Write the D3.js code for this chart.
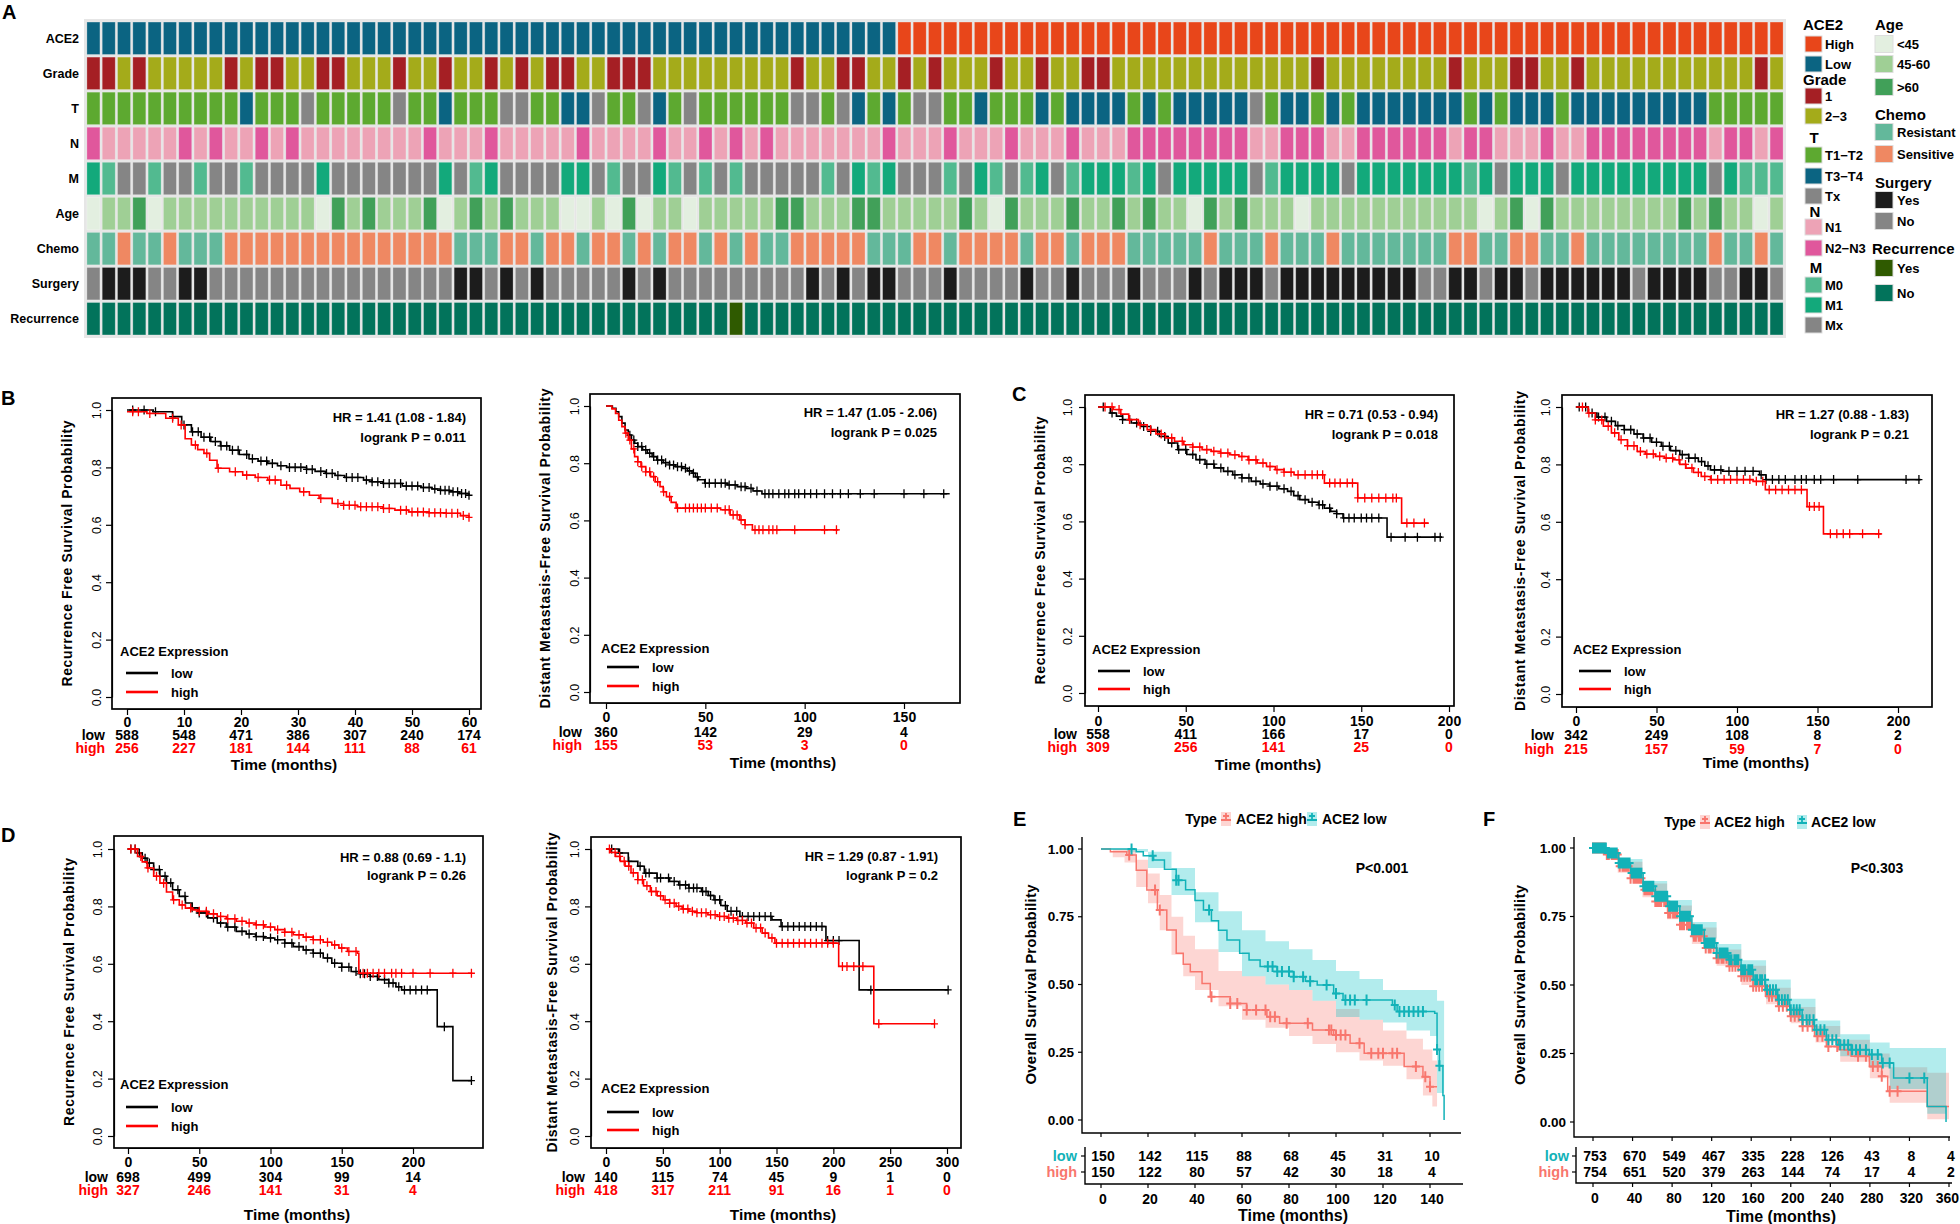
<!DOCTYPE html>
<html><head><meta charset="utf-8">
<script src="https://cdn.jsdelivr.net/npm/d3@7.9.0/dist/d3.min.js"></script>
<style>
body{margin:0;background:#fff;}
</style></head><body>
<svg id="fig" width="1960" height="1224"></svg>
<script>
// figure: ACE2 clinical heatmap (A) + survival panels (B-F)

const SANS = '"Liberation Sans", Arial, sans-serif';

// ---------- A: heatmap data (one code per patient column) ----------
const toArr = s => s.replace(/ /g, '').split('');
const heatRows = ['ACE2', 'Grade', 'T', 'N', 'M', 'Age', 'Chemo', 'Surgery', 'Recurrence'];
const ace2Vals  = toArr('LLLLLLLLLL LLLLLLLLLL LLLLLLLLLL LLLLLLLLLL LLLLLLLLLL LLLHHHHHHH HHHHHHHHHH HHHHHHHHHH HHHHHHHHHH HHHHHHHHHH HHHHHHHHHHH');
const gradeVals = toArr('1121222221 2112211222 1221221212 1122111222 2222221221 1221212221 2212211222 2222222222 1222222221 2221122122 22222222212');
const tVals     = toArr('aaaaaaaaaa baaaxaaaaa xaabaaaxxa abbxaaxbax aaaaaaxxax babaxxaaba aababbbbab abbbbbxabb ababbbbbbb ababbbabbb bbbbbbaaaaa');
const nVals     = toArr('2111112121 1212111111 1121112111 1121111211 2121211111 1121112111 2111211122 2222221122 2112222221 2211121122 22222212212');
const mVals     = toArr('10xx0xx0xx 0xxxx1xxxx xxx1x01xxx x11x0xx10x 0x0xxxxx0x 101xxx0x10 x01x011101 x11111x011 11x1111111 01x111x111 111111x1000');
const ageVals   = toArr('abbcabbbbb bbbbbacbcb bbcabcbcbb baabacabba bbbbbccbbb ccbbbbbcba cbbbcbbcbc bbacbcbbba bbbbbbbbbb babcacbbbb bbbbcbcbbab');
const chemoVals = toArr('RRSRRSRRRS SSSSSSSSSS SSSSRRRSSR SSRSSRSRSS RSRSRRSSSS SRRRSSRSSS SRSSRSSSRR RRRSRRRSRR RSRRRRRRRS SRRSSRRSRR RRRRRRSRRSR');
const surgVals  = toArr('NYYYNNYYNN NNNNNNNNNN NNNNYYNYNY NNNNNYNYNN NNNNNNNYNY NYYNNNYNNN NYNNYNNNYN NNYNYYYNYY YYYYYYYNNY YNYYNYYYYY YNYYYYNNYYN');
const recVals   = toArr('NNNNNNNNNN NNNNNNNNNN NNNNNNNNNN NNNNNNNNNN NNYNNNNNNN NNNNNNNNNN NNNNNNNNNN NNNNNNNNNN NNNNNNNNNN NNNNNNNNNN NNNNNNNNNNN');
const heatVals = [ace2Vals, gradeVals, tVals, nVals, mVals, ageVals, chemoVals, surgVals, recVals];

const palette = {
  ACE2: {H: '#E8461A', L: '#0B6482'},
  Grade: {'1': '#A51F24', '2': '#A4AB1A'},
  T: {a: '#5DA930', b: '#0B6482', x: '#858585'},
  N: {'1': '#EDA3B6', '2': '#E0579C'},
  M: {'0': '#52BA90', '1': '#13A97B', x: '#858585'},
  Age: {a: '#E3EFE0', b: '#9FCF95', c: '#41A059'},
  Chemo: {R: '#63B89B', S: '#EF8862'},
  Surgery: {Y: '#1C1C1C', N: '#858585'},
  Recurrence: {Y: '#2F5A00', N: '#02735B'}
};

// legend entries: [group, title, [code, label] ...]
const legendLeft = [
  ['ACE2', 'ACE2', [['H', 'High'], ['L', 'Low']]],
  ['Grade', 'Grade', [['1', '1'], ['2', '2\u22123']]],
  ['T', 'T', [['a', 'T1\u2212T2'], ['b', 'T3\u2212T4'], ['x', 'Tx']]],
  ['N', 'N', [['1', 'N1'], ['2', 'N2\u2212N3']]],
  ['M', 'M', [['0', 'M0'], ['1', 'M1'], ['x', 'Mx']]]
];
const legendRight = [
  ['Age', 'Age', [['a', '<45'], ['b', '45-60'], ['c', '>60']]],
  ['Chemo', 'Chemo', [['R', 'Resistant'], ['S', 'Sensitive']]],
  ['Surgery', 'Surgery', [['Y', 'Yes'], ['N', 'No']]],
  ['Recurrence', 'Recurrence', [['Y', 'Yes'], ['N', 'No']]]
];

// ---------- B-D: Kaplan-Meier curves [months, survival] ----------
const b1Low = [[0,1],[4.6,.994],[8,.977],[9.6,.948],[11.3,.924],[13,.905],[14.7,.89],[16.4,.875],[18,.86],[19.7,.845],[21.4,.83],[23,.822],[24.7,.814],[26.4,.806],[28,.8],[31.5,.793],[33,.786],[34.8,.779],[36.5,.772],[38.2,.765],[41.5,.756],[43,.75],[44.9,.744],[48.3,.735],[51.6,.73],[53.5,.725],[55,.72],[56.6,.715],[58.3,.709],[60,.703]];
const b1High = [[0,.994],[3.5,.988],[6.8,.971],[9,.948],[10.2,.9],[11.3,.878],[12.4,.862],[13.5,.849],[14.5,.825],[15.8,.797],[18,.785],[20.3,.773],[22.5,.765],[24.7,.756],[27,.738],[28.6,.727],[30.3,.715],[32,.703],[33.7,.692],[36,.674],[38,.668],[40.4,.663],[44.9,.657],[47,.651],[49.4,.645],[53,.642],[56,.64],[58.5,.632],[60,.626]];
const b1LowCens = [1,3,5,8,10,11.5,12.5,13.5,14.5,15.5,16.5,17.5,18.5,19.5,21,22,23.5,24.5,25.5,27,28.5,29.5,30.5,31.5,32.5,34,35,36,37,38.5,39.5,40.5,42,43,44,45,46,47,48,49,50,51,52,53,54,55,55.8,56.5,57.2,58,58.7,59.4,60];
const b1HighCens = [1,2,4,8,9.5,12,14,16,19,21,23,25,26,28,31,34,37,38,39,40,41,42,43,44,45,46,48,49,50,51,52,53,54,55,56,57,58,59,60];
const b2Low = [[0,1],[3.2,.992],[5,.98],[6.4,.963],[8,.94],[9.6,.916],[11.2,.898],[12.8,.881],[14.4,.87],[16,.858],[18.4,.847],[20.8,.835],[23.2,.823],[25.6,.811],[28.8,.802],[32,.794],[35,.788],[38.5,.782],[41,.773],[43.3,.765],[45,.752],[46.5,.742],[49.7,.73],[61,.724],[66,.718],[70.5,.712],[74,.703],[78.5,.693],[173,.693]];
const b2High = [[0,1],[3,.99],[4.8,.974],[6.4,.95],[8,.928],[9.6,.905],[11.2,.881],[12.8,.85],[14.4,.823],[16,.805],[17.6,.788],[20,.77],[22.4,.753],[24.8,.735],[27.2,.718],[28.8,.7],[30.4,.683],[32.8,.663],[35.3,.643],[57.7,.637],[62.5,.619],[67.3,.602],[70,.585],[73.7,.567],[117,.567]];
const b2LowCens = [12,14,16,18,20,22,24,26,28,30,32,34,36,38,40,42,44,46,50,52,55,58,60,62,65,68,70,73,76,80,82,84,87,90,92,95,97,100,103,106,110,114,118,122,128,135,150,160,170];
const b2HighCens = [10,12,14,16,18,20,22,24,26,29,32,36,40,42,44,46,48,50,53,56,60,62,64,66,68,70,75,77,79,82,84,86,95,110,116];
const c1Low = [[0,1],[7,.979],[10.5,.968],[14,.956],[19,.944],[24.4,.932],[30,.915],[35,.897],[40,.874],[45.4,.851],[50.6,.834],[55.8,.816],[61,.8],[66.3,.787],[71.5,.775],[76.8,.763],[82,.752],[87.3,.74],[92.5,.731],[97.7,.723],[103,.714],[108,.705],[111.5,.69],[115,.676],[120,.667],[125.6,.658],[129,.646],[132.6,.635],[136,.627],[139.6,.612],[164.7,.545],[196,.545]];
const c1High = [[0,1],[8.7,.991],[13,.975],[17.5,.956],[23,.938],[28,.921],[33,.906],[38.4,.892],[43.6,.88],[48.9,.868],[54,.86],[59.3,.851],[64.5,.845],[69.8,.839],[75,.833],[80.3,.827],[85.5,.815],[90.7,.804],[96,.792],[101,.781],[106,.772],[111.7,.763],[129,.734],[148,.682],[173,.594],[188.5,.594]];
const c1LowCens = [3,8,14,18,22,26,30,34,38,42,46,50,54,58,62,66,70,74,78,82,86,90,94,98,102,106,110,114,118,122,126,128,132,136,140,143,146,150,153,156,160,167,175,182,192,195];
const c1HighCens = [4,8,12,18,24,30,36,42,48,54,58,62,66,70,74,78,82,86,90,94,98,102,106,110,114,118,122,125,128,132,135,138,142,145,148,152,156,160,164,168,170,176,180,186];
const c2Low = [[0,1],[7.6,.979],[13,.965],[19,.95],[24.5,.935],[30,.921],[36,.906],[41.7,.892],[47,.877],[53,.863],[58.7,.848],[64.5,.834],[70,.822],[76,.81],[80,.795],[83.5,.781],[91,.776],[114,.764],[118,.747],[214,.747]];
const c2High = [[0,1],[7.6,.979],[12,.955],[17,.933],[22,.91],[26.6,.886],[32,.865],[38,.845],[43,.836],[49.3,.828],[55,.822],[60.7,.816],[64.5,.8],[68.3,.787],[73,.772],[77.8,.758],[83.5,.747],[110,.741],[117.6,.712],[143.5,.653],[153.7,.558],[189.8,.558]];
const c2LowCens = [2,6,10,14,18,22,26,30,34,38,42,46,50,54,58,62,66,70,74,78,82,86,90,95,100,105,110,115,118,122,126,130,136,140,143,148,152,160,175,205,213];
const c2HighCens = [4,8,12,16,20,24,28,32,36,40,44,48,52,56,60,64,68,72,76,80,84,88,92,96,100,104,108,112,116,120,124,128,132,136,140,145,148,151,158,162,166,170,178,188];
const d1Low = [[0,1],[6.7,.986],[10,.968],[13.4,.951],[18,.928],[22.4,.905],[27,.882],[31.3,.858],[36,.835],[40.3,.812],[45,.795],[49.2,.777],[56,.76],[62.6,.742],[69,.728],[76,.713],[83,.704],[89.5,.695],[96,.69],[103,.684],[110,.672],[116,.66],[123,.648],[130,.637],[137,.62],[143,.602],[150,.588],[156.6,.573],[163,.565],[170,.556],[176,.545],[183,.533],[188,.52],[192,.509],[217,.381],[228,.193],[240.7,.193]];
const d1High = [[0,1],[6.7,.974],[10,.955],[13.4,.934],[18,.905],[22.4,.881],[27,.85],[31.3,.823],[36,.805],[40.3,.794],[45,.788],[49.2,.783],[56,.774],[62.6,.765],[69,.757],[76,.748],[83,.742],[89.5,.736],[96,.728],[103,.719],[110,.71],[116,.701],[123,.693],[130,.684],[137,.675],[143,.666],[148,.655],[154,.643],[161,.637],[162,.567],[241.6,.567]];
const d1LowCens = [2,5,8,12,15,18,22,26,30,35,40,45,50,55,60,65,70,75,80,85,90,95,100,105,110,115,120,125,130,135,140,145,150,155,160,163,166,170,175,180,183,186,190,194,198,202,206,210,222,241];
const d1HighCens = [2,5,9,14,20,25,32,38,44,50,55,60,65,70,75,80,85,90,95,100,105,110,115,120,125,130,135,140,145,150,155,160,165,168,172,176,180,185,188,192,200,212,228,241];
const d2Low = [[0,1],[11,.986],[19.6,.957],[28,.94],[33.7,.916],[44.9,.899],[56,.887],[64,.875],[72.9,.864],[84,.852],[90,.838],[95,.823],[101,.803],[106.6,.783],[117.8,.765],[146,.753],[154,.73],[193.5,.681],[222.7,.509],[301,.509]];
const d2High = [[0,1],[4,.988],[8.4,.974],[12.6,.957],[16.8,.94],[22,.917],[28,.893],[33,.872],[39,.852],[45,.837],[50.5,.823],[56,.811],[61.7,.8],[67,.791],[72.9,.783],[80,.778],[89.7,.771],[98,.765],[106.6,.759],[115,.751],[123,.742],[130,.725],[137.4,.707],[143,.69],[148.6,.672],[204.7,.591],[235.6,.391],[288.8,.391]];
const d2LowCens = [5,12,20,30,35,38,45,48,55,60,65,70,73,77,80,85,88,92,96,100,105,110,115,120,125,130,135,140,145,155,160,165,170,175,180,185,190,195,200,205,233,301];
const d2HighCens = [3,8,12,16,20,24,28,32,36,40,44,48,52,56,60,64,68,72,76,80,84,88,92,96,100,104,108,112,116,120,124,128,132,136,140,146,150,155,160,165,170,175,180,185,190,195,200,208,212,218,226,240,289];

// number at risk tables
const b1Times = [0,10,20,30,40,50,60], b1RiskLow = [588,548,471,386,307,240,174], b1RiskHigh = [256,227,181,144,111,88,61];
const b2Times = [0,50,100,150], b2RiskLow = [360,142,29,4], b2RiskHigh = [155,53,3,0];
const c1Times = [0,50,100,150,200], c1RiskLow = [558,411,166,17,0], c1RiskHigh = [309,256,141,25,0];
const c2Times = [0,50,100,150,200], c2RiskLow = [342,249,108,8,2], c2RiskHigh = [215,157,59,7,0];
const d1Times = [0,50,100,150,200], d1RiskLow = [698,499,304,99,14], d1RiskHigh = [327,246,141,31,4];
const d2Times = [0,50,100,150,200,250,300], d2RiskLow = [140,115,74,45,9,1,0], d2RiskHigh = [418,317,211,91,16,1,0];

// ---------- E-F: overall survival with confidence bands ----------
const eLow = [[0,1],[11,1],[15,.99],[18,.975],[22.4,.959],[27,.925],[32,.885],[36,.85],[40,.81],[43.6,.775],[47,.735],[50,.7],[53.6,.664],[59,.615],[63,.59],[67.7,.566],[75,.548],[82,.529],[87,.512],[92,.498],[99,.467],[103,.443],[124,.424],[126,.4],[142,.394],[143,.26],[144,.2],[145.5,.09],[146,0]];
const eHigh = [[0,1],[4,.99],[11,.978],[15,.922],[19.5,.849],[24,.775],[28,.701],[32,.615],[35,.575],[38,.547],[43,.504],[46.5,.455],[55,.43],[62,.406],[70.6,.381],[76,.357],[90,.332],[99,.314],[106,.283],[112,.246],[129,.197],[137,.16],[140,.123],[143,.123]];
const eLowBand = [[0,1,1],[11,.99,1],[20,.93,.99],[30,.83,.93],[40,.73,.84],[50,.62,.77],[60,.53,.7],[70,.5,.66],[80,.48,.63],[90,.44,.59],[100,.38,.55],[110,.37,.52],[120,.36,.48],[130,.33,.48],[140,.31,.48],[143,.1,.44],[146,0,.44]];
const eHighBand = [[0,1,1],[5,.97,1],[10,.95,1],[15,.86,.96],[20,.8,.91],[25,.7,.83],[30,.61,.75],[35,.53,.68],[40,.48,.63],[50,.42,.55],[60,.37,.53],[70,.34,.5],[80,.31,.48],[90,.28,.44],[100,.25,.41],[110,.22,.37],[120,.2,.33],[130,.15,.3],[137,.09,.26],[141,.05,.22],[143,.05,.22]];
const eLowCens = [13,22,32,33,46,71,73,75,77,80,82,86,89,96,100,104,106,108,113,125,127,129,131,133,135,137,143,144];
const eHighCens = [12,23,25,47,55,58,62,66,70,72,74,79,88,97,98,100,102,104,110,115,118,120,124,126,134,138,140];
const eTimes = [0,20,40,60,80,100,120,140], eRiskLow = [150,142,115,88,68,45,31,10], eRiskHigh = [150,122,80,57,42,30,18,4];

const fLow = [[0,1],[13.6,.982],[26,.945],[38,.909],[50.7,.86],[63,.824],[75.4,.787],[87.8,.751],[100,.702],[112.6,.653],[125,.617],[137,.592],[149.7,.556],[162,.519],[174.4,.483],[186.8,.446],[199,.41],[211.5,.373],[224,.337],[236,.3],[248.6,.282],[261,.264],[279.5,.246],[292,.215],[304,.161],[338,.057],[357,0]];
const fHigh = [[0,1],[13.6,.976],[26,.933],[38,.89],[50.7,.848],[63,.805],[75.4,.763],[87.8,.72],[100,.678],[112.6,.635],[125,.598],[137,.568],[149.7,.532],[162,.495],[174.4,.459],[186.8,.422],[199,.386],[211.5,.349],[224,.313],[236,.276],[248.6,.264],[261,.24],[279.5,.203],[292,.167],[298,.112],[338,.057],[360,.057]];
const fLowBand = [[0,1,1],[25,.93,.96],[50,.84,.88],[75,.77,.81],[100,.67,.73],[125,.59,.65],[150,.52,.59],[175,.45,.52],[200,.38,.45],[225,.31,.37],[250,.24,.32],[280,.2,.29],[300,.12,.27],[338,.03,.27],[357,0,.27]];
const fHighBand = [[0,1,1],[25,.91,.95],[50,.82,.87],[75,.74,.79],[100,.65,.71],[125,.57,.63],[150,.5,.57],[175,.43,.49],[200,.36,.42],[225,.29,.35],[250,.22,.3],[280,.16,.25],[300,.07,.2],[338,.01,.18],[360,.01,.18]];
const fLowCens = [0,1,2,4,5,7,8,10,12,13,15,17,18,20,22,24,26,28,30,31,33,35,37,39,41,43,45,47,49,51,53,55,57,59,61,63,65,67,69,71,73,75,77,79,81,83,85,88,90,92,94,96,98,100,102,104,106,108,110,113,115,117,119,121,123,125,128,130,132,134,136,138,140,143,145,147,150,152,154,157,159,161,164,166,169,171,174,176,179,182,185,188,191,194,197,200,203,206,209,212,216,219,223,226,230,234,238,242,246,250,254,258,262,266,270,276,282,288,293,300,320,335];
const fHighCens = [0,2,3,5,6,8,10,12,14,16,19,21,23,25,27,30,32,34,36,38,41,43,45,47,49,52,54,56,58,60,63,65,67,69,72,74,76,78,81,83,85,88,90,92,95,97,99,102,104,107,109,112,114,117,119,122,125,127,130,132,135,138,141,144,147,150,153,156,159,162,165,168,171,174,178,181,185,188,192,196,200,204,208,212,217,222,227,232,238,247,258,268,276,283,288,292,300,308];
const fTimes = [0,40,80,120,160,200,240,280,320,360], fRiskLow = [753,670,549,467,335,228,126,43,8,4], fRiskHigh = [754,651,520,379,263,144,74,17,4,2];

// ---------- drawing ----------
const svg = d3.select('#fig');

function txt(g, x, y, s, size, opts = {}) {
  return g.append('text').attr('x', x).attr('y', y).attr('dy', '0.35em')
    .attr('text-anchor', opts.anchor || 'start')
    .attr('fill', opts.fill || '#000')
    .style('font', `${opts.weight || 'bold'} ${size}px ${SANS}`)
    .text(s);
}

function survAt(curve, t) {
  let s = curve[0][1];
  curve.forEach(d => { if (d[0] <= t) s = d[1]; });
  return s;
}

function plusPath(curve, cens, x, y, hw, hh) {
  return cens.map(t => {
    const cx = x(t), cy = y(survAt(curve, t));
    return `M${cx - hw},${cy}h${2 * hw}M${cx},${cy - hh}v${2 * hh}`;
  }).join('');
}

// panel letters
[['A', 2, 19], ['B', 1, 405], ['C', 1012, 401], ['D', 1, 842], ['E', 1013, 826], ['F', 1483, 826]].forEach(([l, x, y]) => {
  svg.append('text').attr('x', x).attr('y', y).style('font', `bold 20px ${SANS}`).text(l);
});

// ---- A heatmap ----
const hx = d3.scaleBand().domain(d3.range(ace2Vals.length)).range([86, 1784]).paddingInner(0.15).paddingOuter(0.06);
const hy = d3.scaleBand().domain(heatRows).range([21, 336]).paddingInner(0.075).paddingOuter(0.03);
const heat = svg.append('g');
heat.append('rect').attr('x', 84).attr('y', 19).attr('width', 1702).attr('height', 319).attr('fill', '#e6e6e6');
heatRows.forEach((row, r) => {
  heat.selectAll(null).data(heatVals[r]).join('rect')
    .attr('x', (d, i) => hx(i)).attr('y', hy(row))
    .attr('width', hx.bandwidth()).attr('height', hy.bandwidth())
    .attr('fill', d => palette[row][d])
    .attr('stroke', 'rgba(255,255,255,0.3)').attr('stroke-width', 0.8);
  txt(heat, 79, hy(row) + hy.bandwidth() / 2, row, 12.5, {anchor: 'end'});
});

// legends
function drawLegend(groups, layout) {
  const g = svg.append('g');
  groups.forEach(([key, title, items], gi) => {
    const L = layout[gi];
    txt(g, L.tx, L.ty, title, 15, {anchor: L.center ? 'middle' : 'start'});
    items.forEach(([code, label], ii) => {
      const cy = L.items[ii];
      g.append('rect').attr('x', layout.sx).attr('y', cy - layout.sh / 2)
        .attr('width', layout.sw).attr('height', layout.sh)
        .attr('fill', palette[key][code]).attr('stroke', '#ddd').attr('stroke-width', 1);
      txt(g, layout.lx, cy, label, 13);
    });
  });
}
const legLeftLayout = [
  {tx: 1803, ty: 25, items: [44, 64]},
  {tx: 1803, ty: 80, items: [96, 116]},
  {tx: 1814, ty: 138, center: true, items: [155, 176, 196]},
  {tx: 1815, ty: 212, center: true, items: [227, 248]},
  {tx: 1816, ty: 268, center: true, items: [285, 305, 325]}
];
Object.assign(legLeftLayout, {sx: 1805, sw: 17, sh: 16, lx: 1825});
const legRightLayout = [
  {tx: 1875, ty: 25, items: [44, 64, 87]},
  {tx: 1875, ty: 115, items: [132, 154]},
  {tx: 1875, ty: 183, items: [200, 221]},
  {tx: 1872, ty: 249, items: [268, 293]}
];
Object.assign(legRightLayout, {sx: 1875, sw: 18, sh: 17, lx: 1897});
drawLegend(legendLeft, legLeftLayout);
drawLegend(legendRight, legRightLayout);

// ---- B-D: base-R style KM plots ----
function drawKM(p) {
  const g = svg.append('g');
  const [L, T, R, B] = p.box;
  const x = d3.scaleLinear().domain([p.times[0], p.times[p.times.length - 1]]).range(p.xr);
  const y = d3.scaleLinear().domain([0, 1]).range(p.yr);
  const line = d3.line().x(d => x(d[0])).y(d => y(d[1])).curve(d3.curveStepAfter);

  [[p.low, p.lowCens, '#000'], [p.high, p.highCens, '#FF0000']].forEach(([c, cens, col]) => {
    g.append('path').attr('d', line(c)).attr('fill', 'none').attr('stroke', col).attr('stroke-width', 1.6);
    g.append('path').attr('d', plusPath(c, cens, x, y, 3.5, 4.5)).attr('fill', 'none').attr('stroke', col).attr('stroke-width', 1.3);
  });

  g.append('rect').attr('x', L).attr('y', T).attr('width', R - L).attr('height', B - T)
    .attr('fill', 'none').attr('stroke', '#000').attr('stroke-width', 1.7);

  const ya = g.append('g').attr('transform', `translate(${L},0)`)
    .call(d3.axisLeft(y).tickValues([0, .2, .4, .6, .8, 1]).tickFormat(d3.format('.1f')).tickSize(6).tickSizeOuter(0));
  ya.selectAll('text').attr('x', 0).attr('dy', null).attr('text-anchor', 'middle')
    .attr('transform', `translate(${p.yTickX - L + 4.5},0) rotate(-90)`)
    .style('font', `12.5px ${SANS}`);
  ya.selectAll('line,path').attr('stroke-width', 1.2);

  const xa = g.append('g').attr('transform', `translate(0,${B})`)
    .call(d3.axisBottom(x).tickValues(p.times).tickSize(6).tickSizeOuter(0));
  xa.selectAll('text').attr('y', p.labY - B).attr('dy', '0.35em').style('font', `bold 14px ${SANS}`);
  xa.selectAll('line,path').attr('stroke-width', 1.2);

  // rotated y title
  g.append('text').attr('transform', `translate(${p.ylabX},${(T + B) / 2}) rotate(-90)`)
    .attr('text-anchor', 'middle').attr('dy', '0.35em')
    .attr('textLength', p.ylabLen).attr('lengthAdjust', 'spacing')
    .style('font', `bold 14px ${SANS}`).text(p.ylab);

  txt(g, p.hrX, p.hrY, p.hr, 13, {anchor: 'end'});
  txt(g, p.hrX, p.lrY, p.logrank, 13, {anchor: 'end'});

  txt(g, p.legX, p.legY, 'ACE2 Expression', 13);
  [['low', '#000', p.legLowY], ['high', '#FF0000', p.legHighY]].forEach(([lab, col, ly]) => {
    g.append('line').attr('x1', p.legX + 6).attr('x2', p.legX + 38).attr('y1', ly).attr('y2', ly)
      .attr('stroke', col).attr('stroke-width', 2.6);
    txt(g, p.legX + 51, ly, lab, 13);
  });

  txt(g, p.rowX, p.lowY, 'low', 14, {anchor: 'end'});
  txt(g, p.rowX, p.highY, 'high', 14, {anchor: 'end', fill: '#FF0000'});
  p.times.forEach((t, i) => {
    txt(g, x(t), p.lowY, p.riskLow[i], 14, {anchor: 'middle'});
    txt(g, x(t), p.highY, p.riskHigh[i], 14, {anchor: 'middle', fill: '#FF0000'});
  });
  txt(g, p.timeX, p.timeY, 'Time (months)', 15.5, {anchor: 'middle'});
}

const RFS = 'Recurrence Free Survival Probability';
const DMFS = 'Distant Metastasis-Free Survival Probability';
const kmPanels = [
  {low: b1Low, high: b1High, lowCens: b1LowCens, highCens: b1HighCens, times: b1Times, riskLow: b1RiskLow, riskHigh: b1RiskHigh,
   hr: 'HR = 1.41 (1.08 - 1.84)', logrank: 'logrank P = 0.011', ylab: RFS,
   box: [112, 398, 481, 709], xr: [127, 469], yr: [697, 410], yTickX: 96, ylabX: 67, ylabLen: 266,
   hrX: 466, hrY: 417, lrY: 437, legX: 120, legY: 651, legLowY: 673, legHighY: 692,
   labY: 722, lowY: 735, highY: 748, timeX: 284, timeY: 765, rowX: 105},
  {low: b2Low, high: b2High, lowCens: b2LowCens, highCens: b2HighCens, times: b2Times, riskLow: b2RiskLow, riskHigh: b2RiskHigh,
   hr: 'HR = 1.47 (1.05 - 2.06)', logrank: 'logrank P = 0.025', ylab: DMFS,
   box: [590, 394, 960, 703], xr: [606, 904], yr: [692, 406], yTickX: 574, ylabX: 545, ylabLen: 320,
   hrX: 937, hrY: 412, lrY: 432, legX: 601, legY: 648, legLowY: 667, legHighY: 686,
   labY: 717, lowY: 732, highY: 745, timeX: 783, timeY: 763, rowX: 582},
  {low: c1Low, high: c1High, lowCens: c1LowCens, highCens: c1HighCens, times: c1Times, riskLow: c1RiskLow, riskHigh: c1RiskHigh,
   hr: 'HR = 0.71 (0.53 - 0.94)', logrank: 'logrank P = 0.018', ylab: RFS,
   box: [1085, 395, 1454, 706], xr: [1098, 1449], yr: [693, 407], yTickX: 1067, ylabX: 1040, ylabLen: 268,
   hrX: 1438, hrY: 414, lrY: 434, legX: 1092, legY: 649, legLowY: 671, legHighY: 689,
   labY: 721, lowY: 734, highY: 747, timeX: 1268, timeY: 765, rowX: 1077},
  {low: c2Low, high: c2High, lowCens: c2LowCens, highCens: c2HighCens, times: c2Times, riskLow: c2RiskLow, riskHigh: c2RiskHigh,
   hr: 'HR = 1.27 (0.88 - 1.83)', logrank: 'logrank P = 0.21', ylab: DMFS,
   box: [1562, 395, 1932, 707], xr: [1576, 1898], yr: [694, 407], yTickX: 1545, ylabX: 1520, ylabLen: 320,
   hrX: 1909, hrY: 414, lrY: 434, legX: 1573, legY: 649, legLowY: 671, legHighY: 689,
   labY: 721, lowY: 735, highY: 749, timeX: 1756, timeY: 763, rowX: 1554},
  {low: d1Low, high: d1High, lowCens: d1LowCens, highCens: d1HighCens, times: d1Times, riskLow: d1RiskLow, riskHigh: d1RiskHigh,
   hr: 'HR = 0.88 (0.69 - 1.1)', logrank: 'logrank P = 0.26', ylab: RFS,
   box: [114, 836, 483, 1148], xr: [128, 413], yr: [1136, 849], yTickX: 97, ylabX: 69, ylabLen: 268,
   hrX: 466, hrY: 857, lrY: 875, legX: 120, legY: 1084, legLowY: 1107, legHighY: 1126,
   labY: 1162, lowY: 1177, highY: 1190, timeX: 297, timeY: 1215, rowX: 108},
  {low: d2Low, high: d2High, lowCens: d2LowCens, highCens: d2HighCens, times: d2Times, riskLow: d2RiskLow, riskHigh: d2RiskHigh,
   hr: 'HR = 1.29 (0.87 - 1.91)', logrank: 'logrank P = 0.2', ylab: DMFS,
   box: [591, 837, 961, 1148], xr: [606, 947], yr: [1136, 849], yTickX: 574, ylabX: 552, ylabLen: 320,
   hrX: 938, hrY: 856, lrY: 875, legX: 601, legY: 1088, legLowY: 1112, legHighY: 1130,
   labY: 1162, lowY: 1177, highY: 1190, timeX: 783, timeY: 1215, rowX: 585}
];
kmPanels.forEach(drawKM);

// ---- E-F: survminer style ----
const HIGH = '#F8766D', LOW = '#00BFC4', LOWLINE = '#12B2B8';
function drawGG(p) {
  const g = svg.append('g');
  const x = d3.scaleLinear().domain([p.times[0], p.times[p.times.length - 1]]).range(p.xr);
  const y = d3.scaleLinear().domain([0, 1]).range(p.yr);
  const area = d3.area().x(d => x(d[0])).y0(d => y(d[1])).y1(d => y(d[2])).curve(d3.curveStepAfter);
  const line = d3.line().x(d => x(d[0])).y(d => y(d[1])).curve(d3.curveStepAfter);
  const series = [[p.high, p.highBand, p.highCens, HIGH, HIGH], [p.low, p.lowBand, p.lowCens, LOW, LOWLINE]];
  series.forEach(([c, band, cens, col]) => {
    g.append('path').attr('d', area(band)).attr('fill', col).attr('fill-opacity', 0.3);
  });
  series.forEach(([c, band, cens, col, lcol]) => {
    g.append('path').attr('d', line(c)).attr('fill', 'none').attr('stroke', lcol).attr('stroke-width', 1.5);
    g.append('path').attr('d', plusPath(c, cens, x, y, 4, 5.5)).attr('fill', 'none').attr('stroke', lcol).attr('stroke-width', 2);
  });

  // axes
  g.append('path').attr('d', `M${p.axL},${p.axT}V${p.axB}H${p.axR}`).attr('fill', 'none').attr('stroke', '#000').attr('stroke-width', 1.4);
  [0, .25, .5, .75, 1].forEach(v => {
    g.append('line').attr('x1', p.axL - 4).attr('x2', p.axL).attr('y1', y(v)).attr('y2', y(v)).attr('stroke', '#000').attr('stroke-width', 1.2);
    txt(g, p.axL - 8, y(v), d3.format('.2f')(v), 13.5, {anchor: 'end'});
  });
  p.times.forEach(t => {
    g.append('line').attr('x1', x(t)).attr('x2', x(t)).attr('y1', p.axB).attr('y2', p.axB + 4).attr('stroke', '#000').attr('stroke-width', 1.2);
  });
  g.append('text').attr('transform', `translate(${p.ylabX},${(p.yr[0] + p.yr[1]) / 2}) rotate(-90)`)
    .attr('text-anchor', 'middle').attr('dy', '0.35em')
    .attr('textLength', p.ylabLen).attr('lengthAdjust', 'spacing')
    .style('font', `bold 15px ${SANS}`).text('Overall Survival Probability');

  // legend on top
  txt(g, p.typeX, p.legY, 'Type', 14, {anchor: 'middle'});
  [[p.keyHighX, HIGH, HIGH, 'ACE2 high'], [p.keyLowX, LOW, LOWLINE, 'ACE2 low']].forEach(([kx, col, lcol, lab]) => {
    g.append('rect').attr('x', kx).attr('y', p.legY - 7).attr('width', 10).attr('height', 14).attr('fill', col).attr('fill-opacity', 0.3);
    g.append('path').attr('d', `M${kx},${p.legY + 1}h10M${kx + 2},${p.legY - 3}h6M${kx + 5},${p.legY - 6}v6`)
      .attr('stroke', lcol).attr('stroke-width', 1.8).attr('fill', 'none');
    txt(g, kx + (p.keyGap || 15), p.legY, lab, 14);
  });
  txt(g, p.pX, p.pY, p.pText, 14, {anchor: 'middle'});

  // risk table
  g.append('path').attr('d', `M${p.rL},${p.rT}V${p.rB}H${p.axR + 2}`).attr('fill', 'none').attr('stroke', '#000').attr('stroke-width', 1.4);
  [[p.lowY, 'low', LOWLINE, p.riskLow], [p.highY, 'high', HIGH, p.riskHigh]].forEach(([ry, lab, col, vals]) => {
    g.append('line').attr('x1', p.rL - 4).attr('x2', p.rL).attr('y1', ry).attr('y2', ry).attr('stroke', '#000').attr('stroke-width', 1.2);
    txt(g, p.rowX, ry, lab, 14.5, {anchor: 'end', fill: col});
    p.times.forEach((t, i) => txt(g, x(t) + 2, ry, vals[i], 14, {anchor: 'middle'}));
  });
  p.times.forEach((t, i) => {
    g.append('line').attr('x1', x(t)).attr('x2', x(t)).attr('y1', p.rB).attr('y2', p.rB + 4).attr('stroke', '#000').attr('stroke-width', 1.2);
    // last label kept inside the page edge
    const edge = x(t) + 14 > 1960;
    txt(g, edge ? 1959 : x(t) + 2, p.labY, t, 14, {anchor: edge ? 'end' : 'middle'});
  });
  txt(g, p.timeX, p.timeY, 'Time (months)', 16, {anchor: 'middle'});
}

drawGG({low: eLow, high: eHigh, lowBand: eLowBand, highBand: eHighBand, lowCens: eLowCens, highCens: eHighCens,
  times: eTimes, riskLow: eRiskLow, riskHigh: eRiskHigh,
  xr: [1101, 1430], yr: [1120, 849], axL: 1082, axT: 837, axB: 1133, axR: 1461, ylabX: 1031, ylabLen: 200,
  typeX: 1201, legY: 819, keyHighX: 1221, keyLowX: 1307, keyGap: 15, pX: 1382, pY: 868, pText: 'P<0.001',
  rL: 1085, rT: 1147, rB: 1184, rowX: 1077, lowY: 1156, highY: 1172, labY: 1199, timeX: 1293, timeY: 1215});
drawGG({low: fLow, high: fHigh, lowBand: fLowBand, highBand: fHighBand, lowCens: fLowCens, highCens: fHighCens,
  times: fTimes, riskLow: fRiskLow, riskHigh: fRiskHigh,
  xr: [1593, 1949], yr: [1122, 848], axL: 1574, axT: 837, axB: 1137, axR: 1950, ylabX: 1520, ylabLen: 200,
  typeX: 1680, legY: 822, keyHighX: 1700, keyLowX: 1797, keyGap: 14, pX: 1877, pY: 868, pText: 'P<0.303',
  rL: 1576, rT: 1147, rB: 1183, rowX: 1569, lowY: 1156, highY: 1172, labY: 1198, timeX: 1781, timeY: 1216});
</script>
</body></html>
